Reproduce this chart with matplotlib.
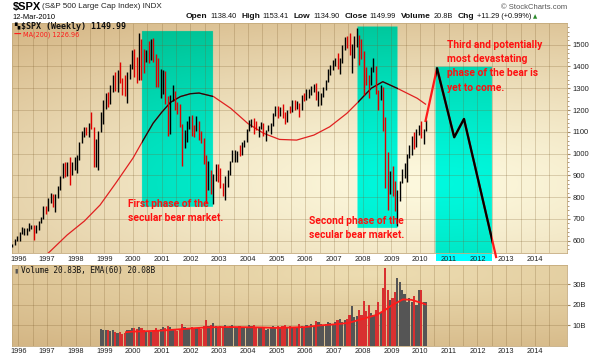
import numpy as np
import matplotlib
matplotlib.use('Agg')
import matplotlib.pyplot as plt
from matplotlib.patches import Rectangle

# monthly S&P 500 bars, Oct 1995 .. Mar 2010
spx_close = [581.5, 605.4, 615.9,
             636.0, 640.4, 645.5, 654.2, 669.1, 670.6, 639.9, 652.0, 687.3, 705.3, 757.0, 740.7,
             786.2, 790.8, 757.1, 801.3, 848.3, 885.1, 954.3, 899.5, 947.3, 914.6, 955.4, 970.4,
             980.3, 1049.3, 1101.8, 1111.8, 1090.8, 1133.8, 1120.7, 957.3, 1017.0, 1098.7, 1163.6, 1229.2,
             1279.6, 1238.3, 1286.4, 1335.2, 1301.8, 1372.7, 1328.7, 1320.4, 1282.7, 1362.9, 1388.9, 1469.3,
             1394.5, 1366.4, 1498.6, 1452.4, 1420.6, 1454.6, 1430.8, 1517.7, 1436.5, 1429.4, 1314.9, 1320.3,
             1366.0, 1239.9, 1160.3, 1249.5, 1255.8, 1224.4, 1211.2, 1133.6, 1040.9, 1059.8, 1139.5, 1148.1,
             1130.2, 1106.7, 1147.4, 1076.9, 1067.1, 989.8, 911.6, 916.1, 815.3, 885.8, 936.3, 879.8,
             855.7, 841.2, 848.2, 916.9, 963.6, 974.5, 990.3, 1008.0, 996.0, 1050.7, 1058.2, 1111.9,
             1131.1, 1144.9, 1126.2, 1107.3, 1120.7, 1140.8, 1101.7, 1104.2, 1114.6, 1130.2, 1173.8, 1211.9,
             1181.3, 1203.6, 1180.6, 1156.9, 1191.5, 1191.3, 1234.2, 1220.3, 1228.8, 1207.0, 1249.5, 1248.3,
             1280.1, 1280.7, 1294.9, 1310.6, 1270.1, 1270.2, 1276.7, 1303.8, 1335.9, 1377.9, 1400.6, 1418.3,
             1438.2, 1406.8, 1420.9, 1482.4, 1530.6, 1503.4, 1455.3, 1474.0, 1526.8, 1549.4, 1481.1, 1468.4,
             1378.6, 1330.6, 1322.7, 1385.6, 1400.4, 1280.0, 1267.4, 1282.8, 1166.4, 968.8, 896.2, 903.3,
             825.9, 735.1, 797.9, 872.8, 919.1, 919.3, 987.5, 1020.6, 1057.1, 1036.2, 1095.6, 1115.1,
             1073.9, 1104.5, 1150.0]
spx_high = [587, 608, 622,
            638, 664, 659, 660, 681, 674, 672, 670, 690, 707, 761, 761,
            794, 818, 815, 813, 851, 899, 957, 961, 961, 983, 961, 986,
            992, 1051, 1106, 1123, 1122, 1139, 1190, 1121, 1066, 1103, 1192, 1244,
            1280, 1283, 1316, 1362, 1376, 1383, 1421, 1347, 1361, 1373, 1412, 1474,
            1478, 1444, 1553, 1527, 1481, 1475, 1517, 1525, 1531, 1455, 1438, 1389,
            1384, 1377, 1263, 1269, 1316, 1286, 1236, 1226, 1134, 1110, 1151, 1173,
            1176, 1130, 1173, 1148, 1106, 1070, 994, 965, 925, 907, 951, 954,
            935, 864, 895, 924, 965, 1015, 1016, 1011, 1040, 1054, 1063, 1112,
            1155, 1159, 1163, 1151, 1128, 1146, 1140, 1108, 1131, 1142, 1188, 1217,
            1217, 1212, 1229, 1192, 1200, 1220, 1246, 1246, 1243, 1233, 1270, 1276,
            1295, 1297, 1310, 1319, 1326, 1286, 1280, 1306, 1340, 1389, 1407, 1431,
            1441, 1462, 1438, 1498, 1535, 1541, 1556, 1504, 1539, 1576, 1545, 1524,
            1472, 1396, 1359, 1397, 1440, 1404, 1293, 1314, 1304, 1167, 1007, 918,
            944, 876, 832, 876, 930, 956, 996, 1040, 1080, 1101, 1113, 1130,
            1151, 1113, 1153]
spx_low = [572, 581, 600,
           597, 631, 627, 625, 645, 656, 601, 637, 649, 681, 700, 722,
           737, 773, 756, 733, 794, 833, 887, 893, 895, 855, 903, 923,
           912, 972, 1047, 1076, 1085, 1074, 1112, 939, 939, 923, 1098, 1137,
           1205, 1212, 1226, 1285, 1288, 1281, 1324, 1268, 1263, 1234, 1341, 1388,
           1350, 1326, 1339, 1339, 1372, 1420, 1415, 1431, 1419, 1305, 1305, 1254,
           1275, 1228, 1081, 1091, 1243, 1200, 1183, 1124, 944, 1026, 1054, 1114,
           1081, 1074, 1106, 1063, 1049, 953, 775, 833, 815, 768, 872, 870,
           840, 806, 789, 847, 902, 963, 962, 960, 990, 995, 1031, 1054,
           1106, 1124, 1088, 1107, 1076, 1113, 1079, 1060, 1102, 1091, 1127, 1173,
           1163, 1171, 1164, 1137, 1147, 1188, 1191, 1201, 1206, 1168, 1201, 1243,
           1245, 1253, 1268, 1282, 1245, 1219, 1224, 1261, 1290, 1327, 1360, 1385,
           1403, 1389, 1364, 1416, 1476, 1484, 1453, 1370, 1439, 1490, 1406, 1435,
           1271, 1317, 1257, 1313, 1373, 1272, 1200, 1248, 1106, 840, 741, 815,
           804, 735, 667, 784, 863, 888, 869, 979, 993, 1020, 1029, 1086,
           1071, 1045, 1105]

# 200 week moving average
ma_year = [1996.8, 1997.1, 1997.7, 1998.3, 1998.85, 1999.4, 2000.0, 2000.3, 2000.7, 2001.0,
           2001.3, 2001.65, 2002.0, 2002.3, 2002.8, 2003.4, 2004.0, 2004.55, 2005.1, 2005.7,
           2006.3, 2006.85, 2007.45, 2007.8, 2008.3, 2008.7, 2009.2, 2009.9, 2010.19]
ma_val = [515, 550, 626, 690, 764, 865, 980, 1050, 1140, 1190,
          1235, 1262, 1275, 1278, 1262, 1208, 1138, 1093, 1065, 1062,
          1085, 1123, 1185, 1231, 1300, 1330, 1300, 1254, 1227]

# hand drawn projection
proj_year = [2010.19, 2010.59, 2011.19, 2011.53, 2012.65]
proj_val = [1150, 1392, 1075, 1159, 525]

# weekly volume (billions), monthly samples Nov 1998 .. Mar 2010
volume = [8.0, 7.5,
          7.8, 7.5, 7.0, 7.5, 6.5, 6.0, 6.5, 5.5, 6.0, 7.5, 7.5, 8.5,
          8.5, 8.0, 9.0, 8.5, 7.5, 7.0, 6.5, 6.5, 7.0, 8.5, 7.5, 8.0,
          9.0, 8.5, 9.5, 9.0, 8.0, 7.5, 7.0, 7.5, 10.5, 9.0, 8.5, 8.5,
          9.0, 8.5, 8.5, 8.5, 8.0, 9.5, 12.5, 9.5, 10.0, 11.0, 9.5, 9.0,
          9.5, 9.0, 10.0, 9.0, 9.5, 10.0, 9.0, 8.5, 9.5, 9.0, 9.0, 8.5,
          10.0, 9.5, 10.0, 9.0, 8.5, 8.5, 9.0, 7.5, 8.0, 9.0, 9.5, 9.0,
          9.5, 9.0, 9.5, 10.0, 9.0, 9.5, 9.0, 8.5, 9.0, 10.5, 9.5, 9.0,
          10.0, 9.5, 10.5, 9.5, 12.0, 11.5, 10.5, 9.5, 10.5, 11.5, 11.0, 10.5,
          11.5, 12.5, 13.0, 11.5, 12.5, 13.0, 15.0, 19.5, 14.0, 14.5, 17.5, 15.0,
          21.5, 17.0, 20.0, 16.0, 15.0, 17.5, 21.0, 16.5, 28.0, 38.0, 27.0, 22.0,
          23.0, 26.0, 33.0, 31.0, 27.0, 25.0, 21.0, 23.0, 21.0, 24.0, 20.0, 27.0,
          27.0, 21.0, 21.0]
ema_year = [1999.75, 2000.0, 2000.5, 2001.0, 2001.5, 2002.0, 2002.5, 2003.0, 2003.5, 2004.0,
            2004.5, 2005.0, 2005.5, 2006.0, 2006.5, 2007.0, 2007.5, 2008.0, 2008.5, 2008.8,
            2009.0, 2009.4, 2009.7, 2010.0, 2010.19]
ema_val = [6.5, 6.8, 7.0, 7.3, 7.8, 8.3, 8.8, 9.0, 9.0, 8.9,
           8.8, 8.6, 8.8, 9.0, 9.8, 10.3, 11.0, 13.0, 15.0, 17.5,
           19.5, 22.5, 22.3, 21.0, 20.1]

years = list(range(1996, 2015))

# annotation boxes (x0, x1, y0, y1)
box1 = (2000.31, 2002.78, 755, 1560)
box2 = (2007.82, 2009.22, 658, 1582)
box3 = (2010.55, 2012.52, 543.5, 1396)

W, H = 600, 358
X0, X1 = 1995.78, 2015.12
PY0, PY1 = 543.5, 1601
VY0, VY1 = 0, 39.3


def fx(px):
    return px / W


def fy(py):
    return 1 - py / H


def gradient(nx, ny, cx, cy, rx, ry, inner, outer, pw):
    gx, gy = np.meshgrid(np.linspace(0, 1, nx), np.linspace(0, 1, ny))
    r = np.sqrt(((gx - cx) / rx) ** 2 + ((gy - cy) / ry) ** 2)
    r = np.clip(r, 0, 1) ** pw
    inner = np.array(inner) / 255.0
    outer = np.array(outer) / 255.0
    return inner + (outer - inner) * r[..., None], gx, gy


fig = plt.figure(figsize=(6, 3.58), dpi=100)
ax = fig.add_axes([fx(12), fy(253), fx(567) - fx(12), (253 - 22.7) / H])
axv = fig.add_axes([fx(12), fy(345.5), fx(567) - fx(12), (345.5 - 265) / H])

# price panel background, boxes "multiplied" with cyan
bg, gx, gy = gradient(1110, 460, 0.75, 0.3, 1.3, 0.95, (253, 249, 222), (208, 174, 122), 1.3)
dx = X0 + gx * (X1 - X0)
dy = PY0 + gy * (PY1 - PY0)
for b in (box1, box2, box3):
    m = (dx >= b[0]) & (dx <= b[1]) & (dy >= b[2]) & (dy <= b[3])
    bg[m, 0] = 0
ax.imshow(bg, extent=(X0, X1, PY0, PY1), origin='lower', aspect='auto', zorder=0)

vbg, _, _ = gradient(600, 200, 0.65, 0.9, 1.2, 1.3, (237, 221, 178), (208, 176, 126), 1.0)
axv.imshow(vbg, extent=(X0, X1, VY0, VY1), origin='lower', aspect='auto', zorder=0)

grid_kw = dict(color='#7a5a2a', alpha=0.28, lw=0.6)
for a in (ax, axv):
    a.set_xlim(X0, X1)
    a.set_xticks(years)
    a.set_xticklabels([str(y) for y in years])
    a.set_xticks(np.arange(1996.5, 2015, 1), minor=True)
    a.grid(which='both', axis='x', **grid_kw)
    a.grid(which='major', axis='y', **grid_kw)
    a.yaxis.tick_right()
    a.tick_params(axis='x', which='both', length=0, pad=2, labelsize=5.3, labelcolor='#222222')
    a.tick_params(axis='y', which='major', length=2, pad=2, labelsize=5.5, labelcolor='#222222',
                  color='#a08860')
    a.tick_params(axis='y', which='minor', length=1.2, color='#a08860')
    for s in a.spines.values():
        s.set_color('#c4aa7c')
        s.set_linewidth(0.6)
    for lab in a.get_xticklabels() + a.get_yticklabels():
        lab.set_family('Liberation Sans')

ax.set_ylim(PY0, PY1)
ax.set_yticks(range(600, 1501, 100))
ax.set_yticks(range(560, 1600, 20), minor=True)

# moving average, black where it sits under the cyan boxes
ax.plot(ma_year, ma_val, color='#e02020', lw=0.9, zorder=3)
for b in (box1, box2):
    clip = Rectangle((b[0], b[2]), b[1] - b[0], b[3] - b[2], transform=ax.transData)
    ln, = ax.plot(ma_year, ma_val, color='#111111', lw=0.9, zorder=3.1)
    ln.set_clip_path(clip)

# price bars
t = 1995.75 + (np.arange(len(spx_close)) + 0.5) / 12
close = np.array(spx_close)
up = np.r_[True, close[1:] >= close[:-1]]
bar_cols = np.where(up, '#000000', '#e00000')
ax.vlines(t, spx_low, spx_high, colors=bar_cols, lw=1.0, zorder=4)

# projection
ax.plot(proj_year, proj_val, color='#ff1a1a', lw=1.6, zorder=5, clip_on=False)
clip3 = Rectangle((box3[0], box3[2]), box3[1] - box3[0], box3[3] - box3[2], transform=ax.transData)
ln, = ax.plot(proj_year, proj_val, color='#000000', lw=1.6, zorder=5.1)
ln.set_clip_path(clip3)
ax.add_patch(Rectangle((box3[0], 505), box3[1] - box3[0], PY0 - 505, color='#00ffff',
                       lw=0, clip_on=False, zorder=0.5))

# volume panel
axv.set_ylim(VY0, VY1)
axv.set_yticks([10, 20, 30])
axv.set_yticklabels(['10B', '20B', '30B'])
for lab in axv.get_yticklabels():
    lab.set_family('Liberation Sans')
vt = t[37:37 + len(volume)]
axv.bar(vt, volume, width=0.075, color=np.where(up[37:37 + len(volume)], '#555555', '#d83030'),
        lw=0, zorder=3)
axv.plot(ema_year, ema_val, color='#ff1a1a', lw=1.3, zorder=4)

# header
fig.text(fx(12.5), fy(7), '$SPX', fontsize=8, fontweight='bold', family='Liberation Sans',
         va='center')
fig.text(fx(42), fy(7), '(S&P 500 Large Cap Index) INDX', fontsize=5.8, family='Liberation Sans',
         va='center', color='#222222')
fig.text(fx(12.5), fy(17.3), '12-Mar-2010', fontsize=5.4, family='Liberation Sans', va='center')
fig.text(fx(567), fy(7.5), '© StockCharts.com', fontsize=5.5, family='Liberation Sans',
         va='center', ha='right', color='#555555')

pieces = [('Open', True), ('1138.40', False), ('High', True), ('1153.41', False),
          ('Low', True), ('1134.90', False), ('Close', True), ('1149.99', False),
          ('Volume', True), ('20.8B', False), ('Chg', True), ('+11.29 (+0.99%)', False)]
rend = fig.canvas.get_renderer()
xp = 186
for s, bold in pieces:
    txt = fig.text(fx(xp), fy(16.8), s, fontsize=6.0 if bold else 5.3,
                   fontweight='bold' if bold else 'normal', family='Liberation Sans',
                   va='center', color='#111111')
    xp += txt.get_window_extent(rend).width + (2.5 if bold else 5)
fig.text(fx(xp - 3.5), fy(16.5), '▲', fontsize=4, color='#2a8a2a', va='center',
         family=['DejaVu Sans'])

# legends
fig.text(fx(14), fy(26.7), '▚', fontsize=5, va='center', family=['DejaVu Sans'])
fig.text(fx(20.7), fy(26.7), '$SPX (Weekly) 1149.99', fontsize=6, fontweight='bold',
         family='DejaVu Sans Mono', va='center', color='#111111')
fig.text(fx(13.5), fy(34.3), '—', fontsize=5.5, va='center', color='#ff1a1a', fontweight='bold')
fig.text(fx(22.7), fy(34.3), 'MA(200) 1226.96', fontsize=4.7, va='center', color='#ff1a1a',
         family='DejaVu Sans')
fig.text(fx(14.5), fy(271), '▮', fontsize=4.5, va='center', color='#555555',
         family=['DejaVu Sans'])
fig.text(fx(21), fy(271), 'Volume 20.83B, EMA(60) 20.08B', fontsize=5.6,
         family='DejaVu Sans Mono', va='center', color='#111111')

# annotations
red_kw = dict(fontsize=7.4, fontweight='bold', family='Roboto', color='#ff1010', va='center')
for i, s in enumerate(['First phase of the', 'secular bear market.']):
    fig.text(fx(128), fy(204 + 14 * i), s, **red_kw)
for i, s in enumerate(['Second phase of the', 'secular bear market.']):
    fig.text(fx(309), fy(221 + 14 * i), s, **red_kw)
for i, s in enumerate(['Third and potentially', 'most devastating',
                       'phase of the bear is', 'yet to come.']):
    fig.text(fx(447), fy(45 + 14.2 * i), s, **red_kw)

fig.savefig('out.png', dpi=100)
